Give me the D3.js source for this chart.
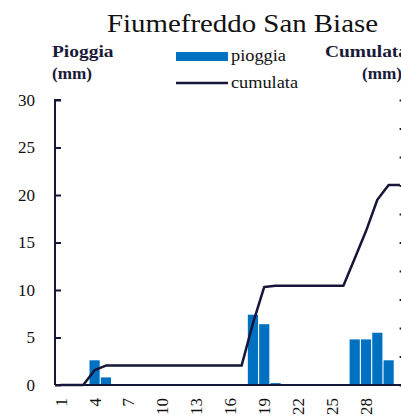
<!DOCTYPE html>
<html>
<head>
<meta charset="utf-8">
<script src="https://cdn.jsdelivr.net/npm/d3@7"></script>
<style>
  body { margin: 0; background: #fff; }
  svg { display: block; }
  text { font-family: "Liberation Serif", "Times New Roman", serif; fill: #111; }
</style>
</head>
<body>
<div id="chart"></div>
<script>
// dati giornalieri
var days = d3.range(1, 32);
var pioggia = [0, 0, 0, 2.6, 0.8, 0, 0, 0, 0, 0, 0, 0, 0, 0, 0, 0, 0, 7.4, 6.4, 0.2,
               0, 0, 0, 0, 0, 0, 4.8, 4.8, 5.5, 2.6, 0];
var cumulata = [];
var leftTicks = [0, 5, 10, 15, 20, 25, 30];
var rightTicks = [0, 5, 10, 15, 20, 25, 30, 35, 40, 45, 50];
var xLabels = [1, 4, 7, 10, 13, 16, 19, 22, 25, 28];

var title = "Fiumefreddo San Biase";
var ink = "#16163a";
var blu = "#0070c0";

// cumulata = somma progressiva della pioggia
pioggia.reduce(function (acc, v) { acc += v; cumulata.push(acc); return acc; }, 0);

var width = 401, height = 416;
var pLeft = 55, pRight = 405.6, pTop = 100, pBottom = 385;

var svg = d3.select("#chart").append("svg")
    .attr("width", width)
    .attr("height", height);

var x = d3.scaleBand().domain(days).range([pLeft, pRight]).paddingInner(0.1).paddingOuter(0.05);
var y = d3.scaleLinear().domain([0, 30]).range([pBottom, pTop]);
var y2 = d3.scaleLinear().domain([0, 50]).range([pBottom, pTop]);

// testo con larghezza fissata (il font originale e' piu' largo)
function label(px, py, txt, size, len, bold) {
    var t = svg.append("text")
        .attr("x", px).attr("y", py)
        .style("font-size", size + "px")
        .attr("textLength", len)
        .attr("lengthAdjust", "spacingAndGlyphs")
        .text(txt);
    if (bold) t.style("font-weight", "bold").style("fill", "#1a1a3a");
    return t;
}

// titolo
svg.append("text")
    .attr("x", 242.5)
    .attr("y", 32)
    .attr("text-anchor", "middle")
    .style("font-size", "25px")
    .attr("textLength", 271)
    .attr("lengthAdjust", "spacingAndGlyphs")
    .text(title);

// etichette assi
label(52, 57, "Pioggia", 17, 61.5, true);
label(52, 79, "(mm)", 17, 40, true);
label(325, 57, "Cumulata", 17, 83, true);
label(362, 79, "(mm)", 17, 40, true);

// legenda
svg.append("rect").attr("x", 176).attr("y", 52).attr("width", 52).attr("height", 9).attr("fill", blu);
label(231, 61, "pioggia", 16, 55, false);
svg.append("line").attr("x1", 176).attr("x2", 228).attr("y1", 83).attr("y2", 83)
    .attr("stroke", ink).attr("stroke-width", 2.5);
label(231, 88, "cumulata", 16, 67, false);

// barre
svg.append("g").selectAll("rect")
    .data(pioggia)
    .join("rect")
    .attr("x", function (d, i) { return x(days[i]); })
    .attr("width", x.bandwidth())
    .attr("y", function (d) { return y(d); })
    .attr("height", function (d) { return pBottom - y(d); })
    .attr("fill", blu);

// linea cumulata
var line = d3.line()
    .x(function (d, i) { return x(days[i]) + x.bandwidth() / 2; })
    .y(function (d) { return y2(d); });
svg.append("path")
    .datum(cumulata)
    .attr("d", line)
    .attr("fill", "none")
    .attr("stroke", ink)
    .attr("stroke-width", 2.5)
    .attr("stroke-linejoin", "round");

// asse sinistro (tick verso l'interno)
var gl = svg.append("g")
    .attr("transform", "translate(" + pLeft + ",0)")
    .call(d3.axisRight(y).tickValues(leftTicks).tickSize(6).tickFormat(""));
gl.selectAll("path,line").attr("stroke", ink).attr("stroke-width", 2);
gl.select(".domain").attr("d", "M6," + pTop + "H0V" + pBottom);
svg.append("g").selectAll("text")
    .data(leftTicks)
    .join("text")
    .attr("x", 35)
    .attr("y", function (d) { return y(d); })
    .attr("dy", "0.35em")
    .attr("text-anchor", "end")
    .style("font-size", "17px")
    .text(function (d) { return d; });

// asse destro
var gr = svg.append("g")
    .attr("transform", "translate(" + pRight + ",0)")
    .call(d3.axisLeft(y2).tickValues(rightTicks).tickSize(6).tickFormat(""));
gr.selectAll("path,line").attr("stroke", ink).attr("stroke-width", 2);
gr.select(".domain").remove();

// asse x
svg.append("line")
    .attr("x1", pLeft).attr("x2", pRight)
    .attr("y1", pBottom).attr("y2", pBottom)
    .attr("stroke", ink).attr("stroke-width", 2);
svg.append("g").selectAll("text")
    .data(xLabels)
    .join("text")
    .attr("transform", function (d) {
        return "translate(" + (x(d) + x.bandwidth() / 2) + ",398) rotate(-90)";
    })
    .attr("dy", "0.35em")
    .attr("text-anchor", "end")
    .style("font-size", "17px")
    .text(function (d) { return d; });
</script>
</body>
</html>
